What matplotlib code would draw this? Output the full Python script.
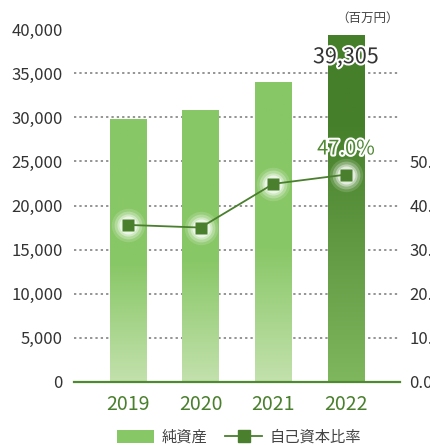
import numpy as np
import matplotlib.pyplot as plt
import matplotlib.patheffects as pe
from matplotlib.colors import LinearSegmentedColormap
from matplotlib.lines import Line2D
from matplotlib.patches import Patch

plt.rcParams['font.family'] = ['Noto Sans CJK JP', 'DejaVu Sans']

# data
years = ['2019', '2020', '2021', '2022']
net_assets = [29800, 30800, 34000, 39305]      # 百万円
equity_ratio = [35.6, 35.0, 44.9, 47.0]         # %
left_ticks = [0, 5000, 10000, 15000, 20000, 25000, 30000, 35000, 40000]
right_ticks = [0, 10, 20, 30, 40, 50]

LINE = '#4a7f2e'
TXT = '#333333'

fig = plt.figure(figsize=(4.3, 4.45), dpi=100)
ax = fig.add_axes([0.172, 0.1416, 0.758, 0.7932])
x = np.arange(len(years))

bars = ax.bar(x, net_assets, width=0.5, color='none', zorder=2)

light = LinearSegmentedColormap.from_list('light', [(0, '#c3e1ad'), (0.45, '#88c766'), (1, '#88c766')])
dark = LinearSegmentedColormap.from_list('dark', [(0, '#7fb75e'), (0.75, '#467f2a'), (1, '#467f2a')])
grad = np.linspace(0, 1, 256).reshape(-1, 1)
for i, b in enumerate(bars):
    cmap = dark if i == len(bars) - 1 else light
    x0, w, h = b.get_x(), b.get_width(), b.get_height()
    im = ax.imshow(grad, cmap=cmap, origin='lower', aspect='auto',
                   extent=(x0, x0 + w, 0, h), zorder=2)
    im.set_clip_path(b)

ax.set_xlim(-0.743, 3.743)
ax.set_ylim(0, 40000)
ax.set_yticks(left_ticks)
ax.set_yticklabels([f'{v:,}' for v in left_ticks])
ax.set_xticks(x)
ax.set_xticklabels(years)
ax.tick_params(axis='y', length=0, pad=8, labelsize=12, labelcolor=TXT)
ax.tick_params(axis='x', length=0, pad=9, labelsize=14, labelcolor=LINE)
for v in left_ticks[1:-1]:
    ax.axhline(v, color='#777777', lw=1.1, ls=(0, (1.5, 2)), zorder=1)
for s in ['top', 'left', 'right']:
    ax.spines[s].set_visible(False)
ax.spines['bottom'].set_color('#4f8a33')
ax.spines['bottom'].set_linewidth(1.6)
ax.spines['bottom'].set_zorder(4)

ax2 = ax.twinx()
ax2.set_ylim(0, 80)
ax2.set_yticks(right_ticks)
ax2.set_yticklabels([f'{v:.1f}' for v in right_ticks])
ax2.tick_params(axis='y', length=0, pad=7, labelsize=12, labelcolor=TXT)
for s in ['top', 'left', 'right', 'bottom']:
    ax2.spines[s].set_visible(False)

# soft glow under markers
for ms, a in [(24, 0.15), (20, 0.25), (16, 0.4), (13, 0.6)]:
    ax2.plot(x, equity_ratio, 'o', ms=ms, color='white', alpha=a, mec='none', zorder=3)
ax2.plot(x, equity_ratio, '-', color=LINE, lw=1.3, zorder=3)
ax2.plot(x, equity_ratio, 's', color=LINE, ms=9, mec='none', zorder=4)

halo = [pe.withStroke(linewidth=3, foreground='white')]
ax.text(x[-1], net_assets[-1] - 2500, f'{net_assets[-1]:,}', ha='center', va='center',
        fontsize=15.5, color=TXT, path_effects=halo, zorder=5)
ax2.text(x[-1], equity_ratio[-1] + 5.8, f'{equity_ratio[-1]:.1f}%', ha='center', va='center',
         fontsize=14.5, color='#4f8a33', path_effects=halo, zorder=5)

fig.text(0.855, 0.96, '（百万円）', ha='center', va='center', fontsize=9, color='#444444')

handles = [Patch(facecolor='#88c766', edgecolor='none'),
           Line2D([], [], color=LINE, lw=1.3, marker='s', ms=9)]
fig.legend(handles, ['純資産', '自己資本比率'], loc='center', bbox_to_anchor=(0.556, 0.018),
           ncol=2, frameon=False, fontsize=11, labelcolor='#444444',
           handlelength=2.4, handleheight=0.9, columnspacing=1.2, handletextpad=0.5)

fig.savefig('out.png', dpi=100)
